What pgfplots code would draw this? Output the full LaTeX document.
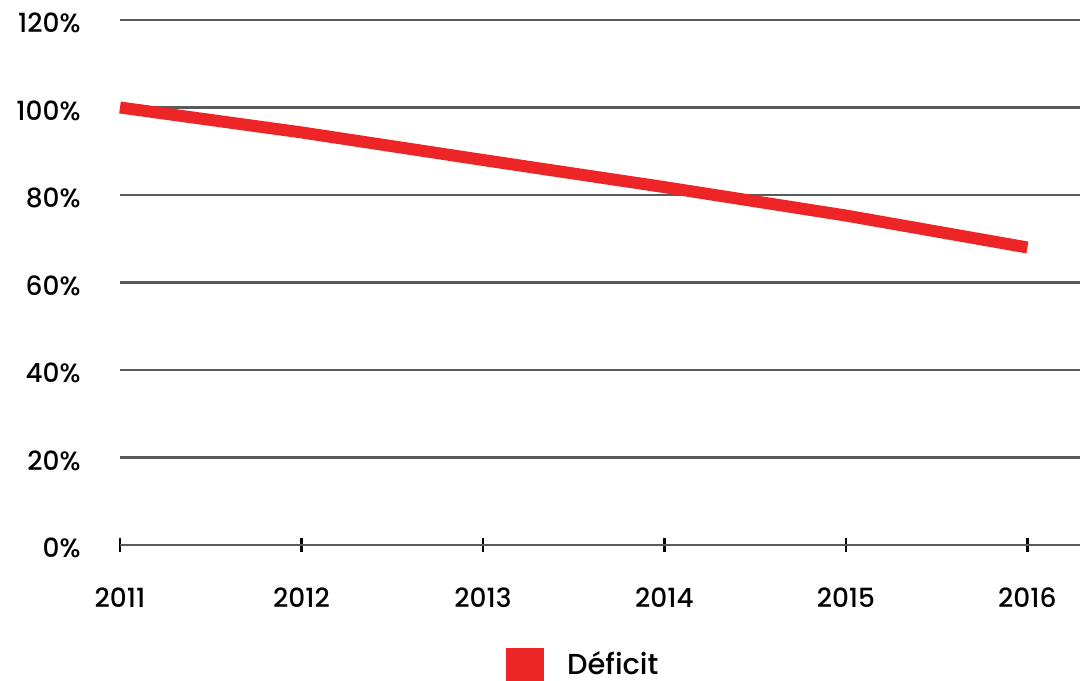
\documentclass[border=0pt]{standalone}
\usepackage{pgfplots}
\pgfplotsset{compat=1.18}
\usepackage{fontspec}
\setmainfont{Poppins}[UprightFont=* Medium]
\definecolor{defred}{HTML}{EE2527}
\definecolor{gridgray}{HTML}{5A5A5A}
\begin{document}
\begin{tikzpicture}[x=1bp,y=1bp]
\useasboundingbox (0,0) rectangle (1082,681);
\begin{axis}[
  at={(120bp,136bp)}, anchor=south west,
  scale only axis, width=960bp, height=525bp,
  xmin=2011, xmax=2016.29,
  ymin=0, ymax=120,
  axis x line=bottom, axis y line=left,
  x axis line style={gridgray, line width=2.2bp, -},
  y axis line style={draw=none},
  xtick={2011,2012,2013,2014,2015,2016},
  xticklabels={2011,2012,2013,2014,2015,2016},
  ytick={0,20,40,60,80,100,120},
  yticklabels={0\%,20\%,40\%,60\%,80\%,100\%,120\%},
  ymajorgrids, grid style={gridgray, line width=2.2bp},
  xtick align=center, major tick length=14bp,
  xtick style={black, line width=2.5bp},
  ytick style={draw=none},
  every tick label/.append style={font=\fontsize{26.5}{31}\selectfont, black},
  xticklabel style={yshift=-32bp},
  yticklabel style={anchor=east, xshift=-29bp, yshift=-3bp},
  clip=false,
  legend style={at={(0.482,-0.227)}, anchor=center, draw=none, fill=none,
    inner sep=0pt, nodes={inner sep=1bp},
    font=\fontsize{29}{34}\selectfont, column sep=10bp},
  legend image code/.code={\fill[defred] (0bp,-10.4bp) rectangle (26bp,10.4bp);},
]
\addplot[defred, line width=12bp] coordinates {
  (2011,100) (2012,94.3) (2013,88.0) (2014,81.8) (2015,75.3) (2016,68.0)
};
\addlegendentry{\hspace{12bp}Déficit}
\end{axis}
\end{tikzpicture}
\end{document}
